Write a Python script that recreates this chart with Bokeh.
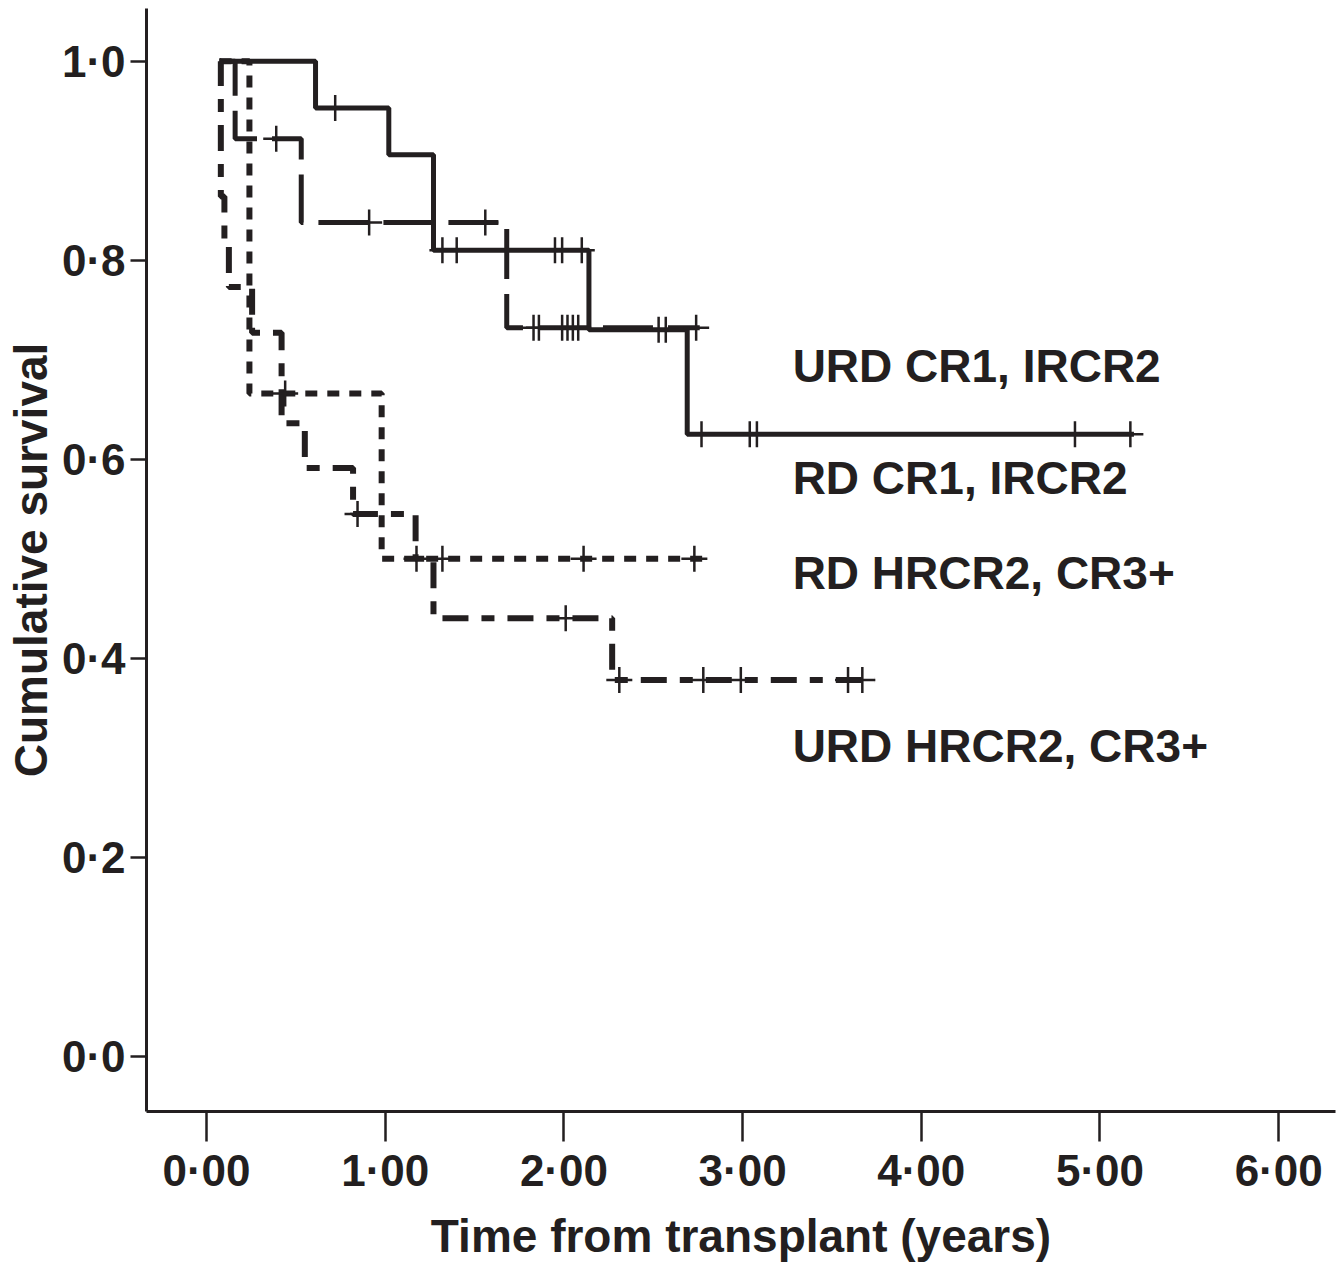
from bokeh.plotting import figure
from bokeh.models import Range1d, FixedTicker, Label
from bokeh.embed import file_html
from bokeh.resources import INLINE

# ---------------- data ----------------
# URD CR1, IRCR2 (solid)
urd_cr1_t = [0.073, 0.61, 1.02, 1.27, 2.14, 2.69, 5.19]
urd_cr1_s = [1.000, 0.953, 0.906, 0.810, 0.730, 0.625, 0.625]
urd_cr1_cens_t = [0.72, 1.32, 1.40, 1.95, 1.99, 2.10, 2.53, 2.57, 2.77, 3.04, 3.08, 4.86, 5.17]
urd_cr1_cens_s = [0.953, 0.810, 0.810, 0.810, 0.810, 0.810, 0.730, 0.730, 0.625, 0.625, 0.625, 0.625, 0.625]

# RD CR1, IRCR2 (long dash)
rd_cr1_t = [0.073, 0.16, 0.53, 1.68, 2.76]
rd_cr1_s = [1.000, 0.922, 0.838, 0.732, 0.732]
rd_cr1_cens_t = [0.39, 0.91, 1.56, 1.83, 1.86, 1.99, 2.02, 2.05, 2.08, 2.74]
rd_cr1_cens_s = [0.922, 0.838, 0.838, 0.732, 0.732, 0.732, 0.732, 0.732, 0.732, 0.732]

# RD HRCR2, CR3+ (short dash)
rd_hr_t = [0.073, 0.24, 0.98, 2.78]
rd_hr_s = [1.000, 0.666, 0.500, 0.500]
rd_hr_cens_t = [0.44, 1.175, 1.32, 2.11, 2.73]
rd_hr_cens_s = [0.666, 0.500, 0.500, 0.500, 0.500]

# URD HRCR2, CR3+ (dash-dot)
urd_hr_t = [0.073, 0.08, 0.10, 0.125, 0.255, 0.42, 0.55, 0.82, 1.17, 1.27, 2.27, 3.74]
urd_hr_s = [1.000, 0.864, 0.818, 0.773, 0.727, 0.636, 0.591, 0.545, 0.500, 0.440, 0.378, 0.378]
urd_hr_cens_t = [0.845, 2.01, 2.31, 2.78, 2.99, 3.59, 3.67]
urd_hr_cens_s = [0.545, 0.440, 0.378, 0.378, 0.378, 0.378, 0.378]

group_names = ["URD CR1, IRCR2", "RD CR1, IRCR2", "RD HRCR2, CR3+", "URD HRCR2, CR3+"]

x_ticks = [0, 1, 2, 3, 4, 5, 6]
x_tick_labels = ["0·00", "1·00", "2·00", "3·00", "4·00", "5·00", "6·00"]
y_ticks = [0.0, 0.2, 0.4, 0.6, 0.8, 1.0]
y_tick_labels = ["0·0", "0·2", "0·4", "0·6", "0·8", "1·0"]

x_title = "Time from transplant (years)"
y_title = "Cumulative survival"

# ---------------- figure ----------------
INK = "#231f20"
FONT = "Liberation Sans"

p = figure(width=1340, height=1264,
           x_range=Range1d(-0.336, 6.318), y_range=Range1d(-0.0557, 1.053),
           output_backend="svg", toolbar_location=None,
           min_border_left=146, min_border_right=5, min_border_top=8, min_border_bottom=153)
p.outline_line_color = None
p.grid.visible = False
p.background_fill_color = "white"
p.border_fill_color = "white"

for ax in (p.xaxis[0], p.yaxis[0]):
    ax.axis_line_width = 3
    ax.axis_line_color = INK
    ax.major_tick_line_width = 2.5
    ax.major_tick_line_color = INK
    ax.minor_tick_line_color = None
    ax.major_tick_in = 0
    ax.major_label_text_font = FONT
    ax.major_label_text_font_style = "bold"
    ax.major_label_text_font_size = "44px"
    ax.major_label_text_color = INK
    ax.axis_label_text_font = FONT
    ax.axis_label_text_font_style = "bold"
    ax.axis_label_text_font_size = "46px"
    ax.axis_label_text_color = INK

p.xaxis.ticker = FixedTicker(ticks=x_ticks)
p.xaxis.major_label_overrides = {t: l for t, l in zip(x_ticks, x_tick_labels)}
p.yaxis.ticker = FixedTicker(ticks=y_ticks)
p.yaxis.major_label_overrides = {t: l for t, l in zip(y_ticks, y_tick_labels)}
p.xaxis.major_tick_out = 30
p.yaxis.major_tick_out = 16
p.xaxis.major_label_standoff = 4
p.yaxis.major_label_standoff = 5
p.xaxis.axis_label = x_title
p.yaxis.axis_label = y_title
p.xaxis.axis_label_standoff = 12
p.yaxis.axis_label_standoff = 2

# ---------------- curves ----------------
p.step(urd_cr1_t, urd_cr1_s, mode="after", line_width=5, line_color=INK)
p.step(rd_cr1_t, rd_cr1_s, mode="after", line_width=5, line_color=INK, line_dash="50 15")
p.step(rd_hr_t, rd_hr_s, mode="after", line_width=6, line_color=INK, line_dash="12 10")
p.step(urd_hr_t, urd_hr_s, mode="after", line_width=6, line_color=INK, line_dash="26 13 13 13")

for ct, cs in [(urd_cr1_cens_t, urd_cr1_cens_s), (rd_cr1_cens_t, rd_cr1_cens_s),
               (rd_hr_cens_t, rd_hr_cens_s), (urd_hr_cens_t, urd_hr_cens_s)]:
    p.scatter(ct, cs, marker="cross", size=26, line_width=2.5, line_color=INK)

# ---------------- group labels ----------------
label_x = 3.28
label_y = [0.694, 0.581, 0.486, 0.312]
for name, ly in zip(group_names, label_y):
    p.add_layout(Label(x=label_x, y=ly, text=name, text_font=FONT, text_font_style="bold",
                       text_font_size="46px", text_color=INK, text_baseline="middle"))

open("out.html", "w").write(file_html(p, INLINE))
